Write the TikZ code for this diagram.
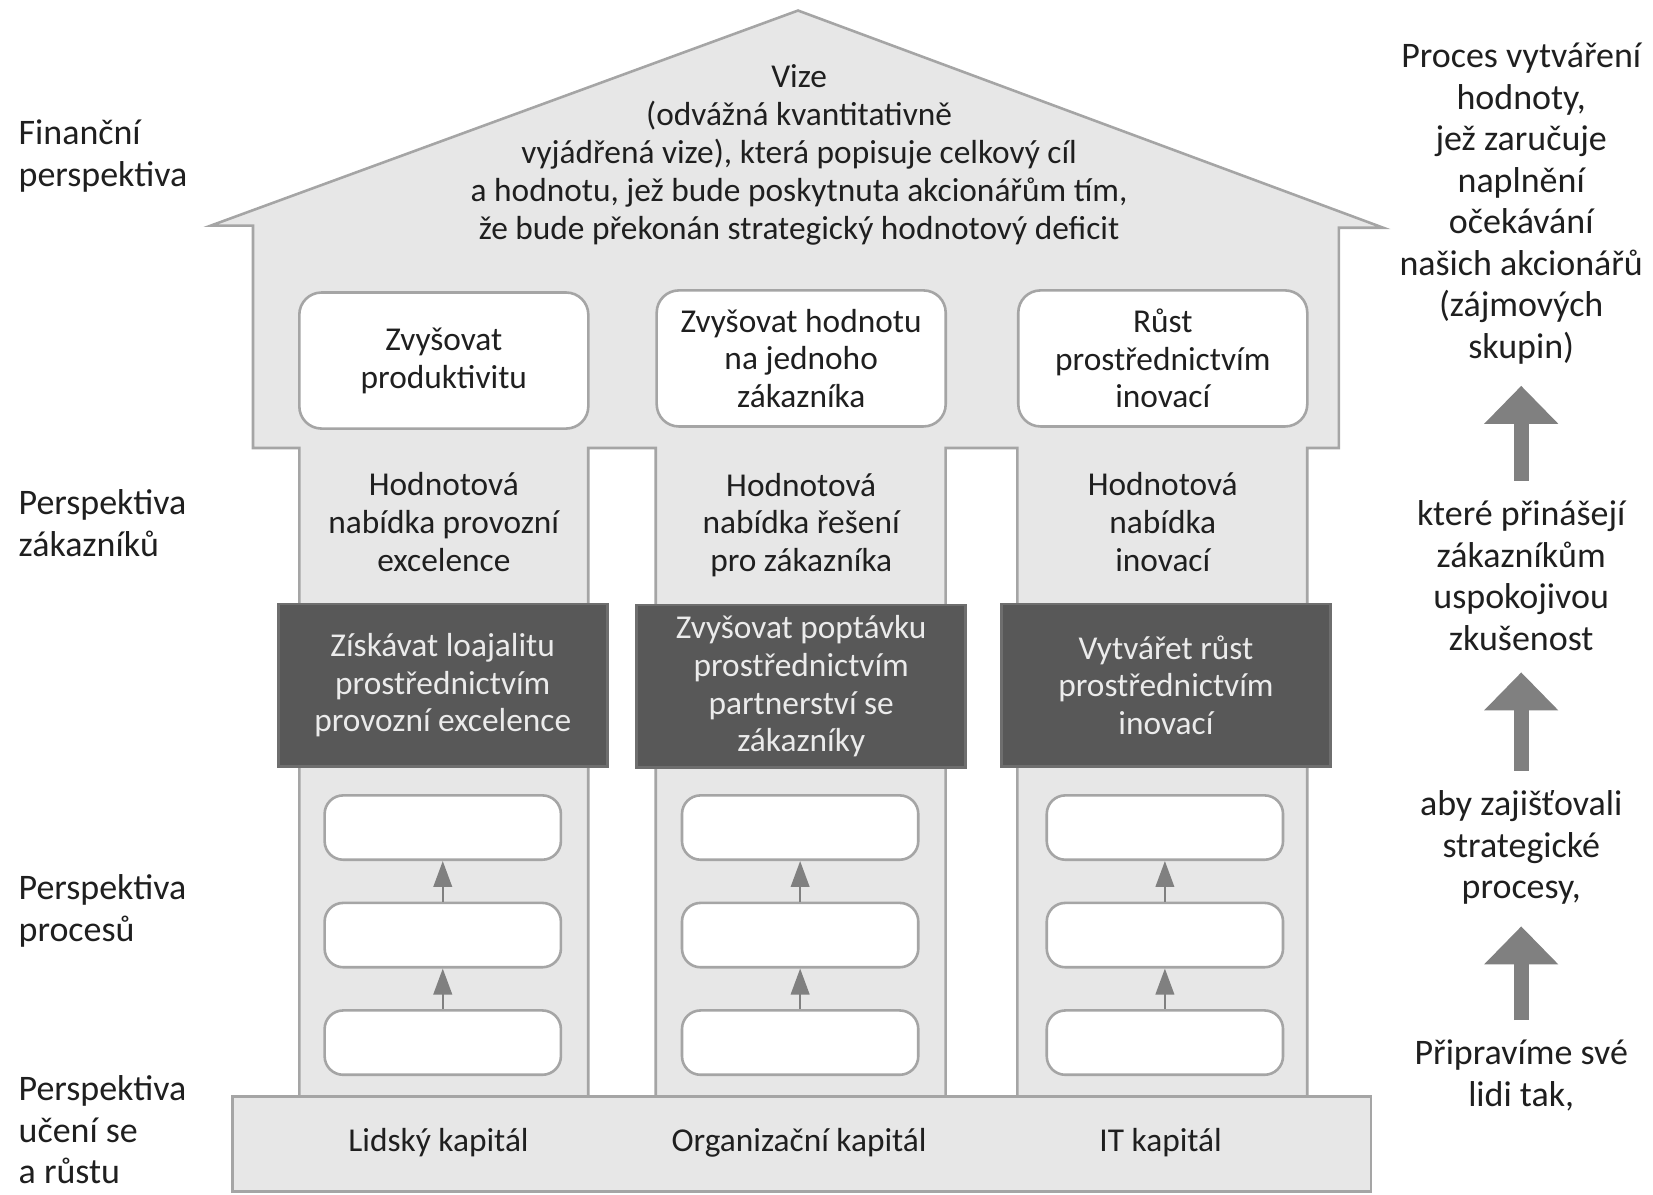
\documentclass[tikz,border=0pt]{standalone}
\usepackage{fontspec}
\setmainfont{Carlito}
\usetikzlibrary{
  arrows.meta,
  positioning
}
\definecolor{housegray}{RGB}{231, 231, 231}
\definecolor{edgegray}{RGB}{165, 165, 165}
\definecolor{darkbox}{RGB}{88, 88, 88}
\definecolor{darkedge}{RGB}{110, 110, 110}
\definecolor{arrowgray}{RGB}{128, 128, 128}

\tikzset{
  houseline/.style={draw=edgegray, fill=housegray, line width=0.7pt},
  housetext/.style={font=\fontsize{9}{10.2}\selectfont, align=center, inner sep=0pt, text=black!88},
  sidetext/.style={font=\fontsize{9.7}{11.2}\selectfont, inner sep=0pt, text=black!88},
  goalbox/.style={housetext, draw=edgegray, fill=white, rounded corners=6pt, line width=0.7pt,
                  minimum width=2.74cm, minimum height=1.29cm},
  themebox/.style={housetext, draw=darkedge, fill=darkbox, text=white!92!black, line width=0.7pt,
                   minimum width=3.12cm, minimum height=1.54cm},
  procbox/.style={draw=edgegray, fill=white, rounded corners=5pt, line width=0.7pt,
                  minimum width=2.24cm, minimum height=0.61cm},
  basebox/.style={houseline, minimum width=10.79cm, minimum height=0.9cm},
  procarrow/.style={draw=arrowgray, line width=0.6pt, -{Triangle[width=5pt,length=7pt]}},
  bigarrow/.style={draw=arrowgray, line width=0.14cm, -{Triangle[width=0.68cm,length=0.36cm]},
                   shorten >=0.2cm, shorten <=0.18cm}
}

\begin{document}
\begin{tikzpicture}[x=0.01cm, y=-0.01cm]
\useasboundingbox (0,0) rectangle (1568,1133);

% house: roof, body and the three pillars
\draw[houseline] (200,214) -- (757,10) -- (1312,216) -- (1270,216) -- (1270,425)
  -- (1240,425) -- (1240,1040) -- (965,1040) -- (965,425) -- (897,425)
  -- (897,1040) -- (622,1040) -- (622,425) -- (558,425) -- (558,1040)
  -- (284,1040) -- (284,425) -- (240,425) -- (240,214) -- cycle;
\node[basebox] (base) at (760.5,1085) {};

% vision
\node[housetext] (vision) at (758,147)
  {Vize\\(odvážná kvantitativně\\vyjádřená vize), která popisuje celkový cíl\\
   a hodnotu, jež bude poskytnuta akcionářům tím,\\že bude překonán strategický hodnotový deficit};

% financial goals
\node[goalbox] (productivity) at (421,342) {Zvyšovat\\produktivitu};
\node[goalbox] (customervalue) at (760,340) {Zvyšovat hodnotu\\na jednoho\\zákazníka};
\node[goalbox] (growth) at (1103,340) {Růst\\prostřednictvím\\inovací};

% value propositions
\node[housetext] (opexprop) at (421,495) {Hodnotová\\nabídka provozní\\excelence};
\node[housetext] (solutionprop) at (760,498) {Hodnotová\\nabídka řešení\\pro zákazníka};
\node[housetext] (innovprop) at (1103,495) {Hodnotová\\nabídka\\inovací};

% strategic themes
\node[themebox] (loyalty) at (420,650) {Získávat loajalitu\\prostřednictvím\\provozní excelence};
\node[themebox] (demand) at (760,651) {Zvyšovat poptávku\\prostřednictvím\\partnerství se\\zákazníky};
\node[themebox] (creategrowth) at (1106,650) {Vytvářet růst\\prostřednictvím\\inovací};

% processes
\node[procbox] (lefttop) at (420,785) {};
\node[procbox] (leftmid) at (420,887) {};
\node[procbox] (leftbot) at (420,989) {};
\node[procbox] (midtop) at (759,785) {};
\node[procbox] (midmid) at (759,887) {};
\node[procbox] (midbot) at (759,989) {};
\node[procbox] (righttop) at (1105,785) {};
\node[procbox] (rightmid) at (1105,887) {};
\node[procbox] (rightbot) at (1105,989) {};

\draw[procarrow] (leftbot) -- (leftmid);
\draw[procarrow] (leftmid) -- (lefttop);
\draw[procarrow] (midbot) -- (midmid);
\draw[procarrow] (midmid) -- (midtop);
\draw[procarrow] (rightbot) -- (rightmid);
\draw[procarrow] (rightmid) -- (righttop);

% capitals
\node[housetext] (human) at (416,1084) {Lidský kapitál};
\node[housetext] (organisation) at (758,1084) {Organizační kapitál};
\node[housetext] (itcapital) at (1101,1084) {IT kapitál};

% perspectives
\node[sidetext, anchor=west, align=left] (financial) at (17,148) {Finanční\\perspektiva};
\node[sidetext, anchor=west, align=left] (customer) at (17,496) {Perspektiva\\zákazníků};
\node[sidetext, anchor=west, align=left] (process) at (17,864) {Perspektiva\\procesů};
\node[sidetext, anchor=west, align=left] (learning) at (17,1072) {Perspektiva\\učení se\\a růstu};

% value chain on the right
\node[sidetext, align=center] (shareholders) at (1443,193)
  {Proces vytváření\\hodnoty,\\jež zaručuje\\naplnění\\očekávání\\našich akcionářů\\(zájmových\\skupin)};
\node[sidetext, align=center] (customers) at (1443,546) {které přinášejí\\zákazníkům\\uspokojivou\\zkušenost};
\node[sidetext, align=center] (processes) at (1443,804) {aby zajišťovali\\strategické\\procesy,};
\node[sidetext, align=center] (people) at (1443,1020) {Připravíme své\\lidi tak,};

\draw[bigarrow] (customers) -- (shareholders);
\draw[bigarrow] (processes) -- (customers);
\draw[bigarrow] (people) -- (processes);
\end{tikzpicture}
\end{document}
